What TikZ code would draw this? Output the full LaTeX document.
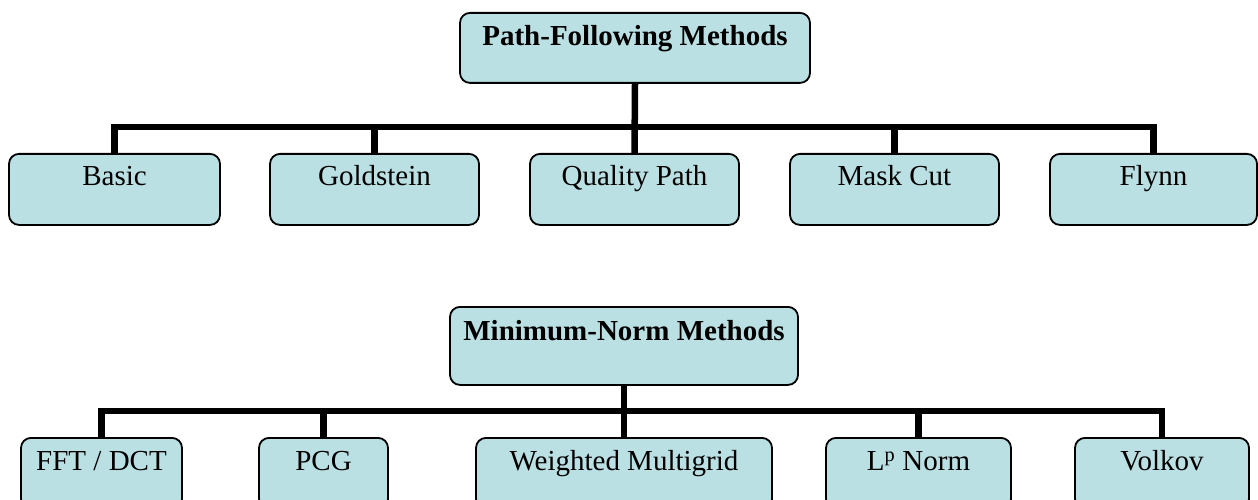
\documentclass[tikz,border=0pt]{standalone}
\usepackage{fontspec}
\setmainfont{Liberation Serif}
\definecolor{boxfill}{RGB}{186,224,227}
\begin{document}
\begin{tikzpicture}[x=1pt,y=-1pt,
  box/.style={draw=black,line width=1.8pt,fill=boxfill,rounded corners=10pt,
    inner sep=0pt,anchor=north,align=center,font=\fontsize{29}{34}\selectfont},
  rowa/.style={box,text height=32pt,text depth=39pt},
  rowb/.style={box,text height=33pt,text depth=38pt},
  conn/.style={line width=6.5pt,line cap=butt}]
\useasboundingbox (0,0) rectangle (1258,500);
% Path-Following
\node[box,text height=33pt,text depth=37pt,minimum width=350pt,font=\fontsize{29}{34}\selectfont\bfseries] (pf) at (635,12) {Path-Following Methods};
\node[rowa,minimum width=211pt] (basic) at (114.5,153) {Basic};
\node[rowa,minimum width=209pt] (gold) at (374.5,153) {Goldstein};
\node[rowa,minimum width=209pt] (qp) at (634.5,153) {Quality Path};
\node[rowa,minimum width=209pt] (mc) at (894.5,153) {Mask Cut};
\node[rowa,minimum width=207pt] (flynn) at (1153.5,153) {Flynn};
\coordinate (bar1) at (635,127);
\draw[conn] (pf.south) -- (qp.north);
\draw[conn] (basic.north) -- (basic.north |- bar1) -- (flynn.north |- bar1) -- (flynn.north);
\foreach \n in {gold,mc} \draw[conn] (\n.north) -- (\n.north |- bar1);
% Minimum-Norm
\node[box,text height=34pt,text depth=44pt,minimum width=348pt,font=\fontsize{29}{34}\selectfont\bfseries] (mn) at (624,306) {Minimum-Norm Methods};
\node[rowb,minimum width=161pt] (fft) at (101.5,437) {FFT / DCT};
\node[rowb,minimum width=129pt] (pcg) at (323.5,437) {PCG};
\node[rowb,minimum width=296pt] (wm) at (624,437) {Weighted Multigrid};
\node[rowb,minimum width=185pt] (lp) at (918.5,437) {L\textsuperscript{p} Norm};
\node[rowb,minimum width=174pt] (vk) at (1162,437) {Volkov};
\coordinate (bar2) at (624,411);
\draw[conn] (mn.south) -- (wm.north);
\draw[conn] (fft.north) -- (fft.north |- bar2) -- (vk.north |- bar2) -- (vk.north);
\foreach \n in {pcg,lp} \draw[conn] (\n.north) -- (\n.north |- bar2);
\end{tikzpicture}
\end{document}
